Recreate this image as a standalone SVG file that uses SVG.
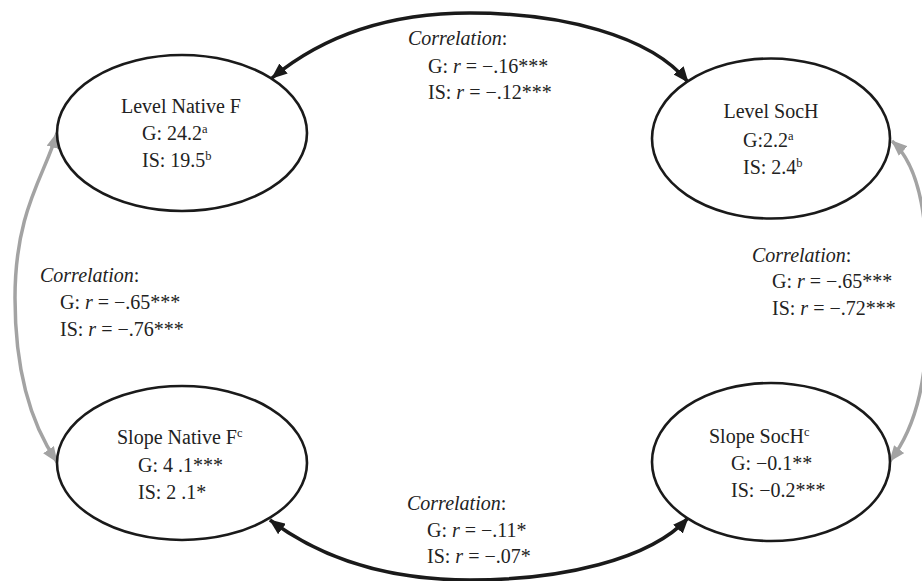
<svg xmlns="http://www.w3.org/2000/svg" width="922" height="581" viewBox="0 0 922 581">
<style>
  .bg { fill: #ffffff; }
  .node { fill: #ffffff; stroke: #1a1a1a; stroke-width: 2.6; }
  text { font-family: "Liberation Serif", "Times New Roman", serif; font-size: 20px; fill: #222222; }
  .it { font-style: italic; }
  .sup { font-size: 12.5px; }
  .blk { fill: none; stroke: #1a1a1a; stroke-width: 3.5; }
  .gry { fill: none; stroke: #a3a3a3; stroke-width: 3.5; }
</style>
<defs>
  <marker id="ab" viewBox="0 0 16 13" refX="15" refY="6.5" markerWidth="16" markerHeight="13" markerUnits="userSpaceOnUse" orient="auto-start-reverse">
    <path d="M0,0 L16,6.5 L0,13 z" fill="#1a1a1a"/>
  </marker>
  <marker id="ag" viewBox="0 0 16 13" refX="15" refY="6.5" markerWidth="16" markerHeight="13" markerUnits="userSpaceOnUse" orient="auto-start-reverse">
    <path d="M0,0 L16,6.5 L0,13 z" fill="#a3a3a3"/>
  </marker>
</defs>
<rect class="bg" x="0" y="0" width="922" height="581"/>

<g id="connectors">
  <path id="c-top" class="blk" d="M 272 78 C 330 30, 400 13, 470 13 C 560 13, 650 35, 688 82" marker-start="url(#ab)" marker-end="url(#ab)"/>
  <path id="c-bottom" class="blk" d="M 270 520 C 330 565, 400 580, 470 580 C 560 580, 650 560, 688 518" marker-start="url(#ab)" marker-end="url(#ab)"/>
  <path id="c-left" class="gry" d="M 57 133 C 45 175, 15 210, 15 298 C 15 380, 35 430, 57 462" marker-start="url(#ag)" marker-end="url(#ag)"/>
  <path id="c-right" class="gry" d="M 892 141 C 922 168, 928 225, 928 300 C 928 375, 918 425, 890 461" marker-start="url(#ag)" marker-end="url(#ag)"/>
</g>

<g id="node-level-native-f">
  <ellipse class="node" cx="182" cy="133" rx="125" ry="78"/>
  <text x="181" y="113" text-anchor="middle">Level Native F</text>
  <text x="142" y="140">G: 24.2<tspan class="sup" dy="-7">a</tspan></text>
  <text x="142" y="167">IS: 19.5<tspan class="sup" dy="-7">b</tspan></text>
</g>

<g id="node-level-soch">
  <ellipse class="node" cx="771" cy="138.5" rx="119" ry="80"/>
  <text x="771" y="118" text-anchor="middle">Level SocH</text>
  <text x="743" y="147">G:2.2<tspan class="sup" dy="-7">a</tspan></text>
  <text x="743" y="174">IS: 2.4<tspan class="sup" dy="-7">b</tspan></text>
</g>

<g id="node-slope-native-f">
  <ellipse class="node" cx="182" cy="463" rx="125" ry="77"/>
  <text x="117" y="444">Slope Native F<tspan class="sup" dy="-7">c</tspan></text>
  <text x="138" y="472">G: 4 .1***</text>
  <text x="138" y="499">IS: 2 .1*</text>
</g>

<g id="node-slope-soch">
  <ellipse class="node" cx="771" cy="462" rx="119" ry="79"/>
  <text x="709" y="443">Slope SocH<tspan class="sup" dy="-7">c</tspan></text>
  <text x="731" y="470">G: −0.1**</text>
  <text x="731" y="497">IS: −0.2***</text>
</g>

<g id="label-top">
  <text x="408" y="45"><tspan class="it">Correlation</tspan>:</text>
  <text x="428" y="73">G: <tspan class="it">r</tspan> = −.16***</text>
  <text x="428" y="99">IS: <tspan class="it">r</tspan> = −.12***</text>
</g>
<g id="label-bottom">
  <text x="407" y="510"><tspan class="it">Correlation</tspan>:</text>
  <text x="427" y="537">G: <tspan class="it">r</tspan> = −.11*</text>
  <text x="427" y="563">IS: <tspan class="it">r</tspan> = −.07*</text>
</g>
<g id="label-left">
  <text x="40" y="282"><tspan class="it">Correlation</tspan>:</text>
  <text x="60" y="309">G: <tspan class="it">r</tspan> = −.65***</text>
  <text x="60" y="336">IS: <tspan class="it">r</tspan> = −.76***</text>
</g>
<g id="label-right">
  <text x="752" y="262"><tspan class="it">Correlation</tspan>:</text>
  <text x="772" y="288">G: <tspan class="it">r</tspan> = −.65***</text>
  <text x="772" y="315">IS: <tspan class="it">r</tspan> = −.72***</text>
</g>
</svg>
